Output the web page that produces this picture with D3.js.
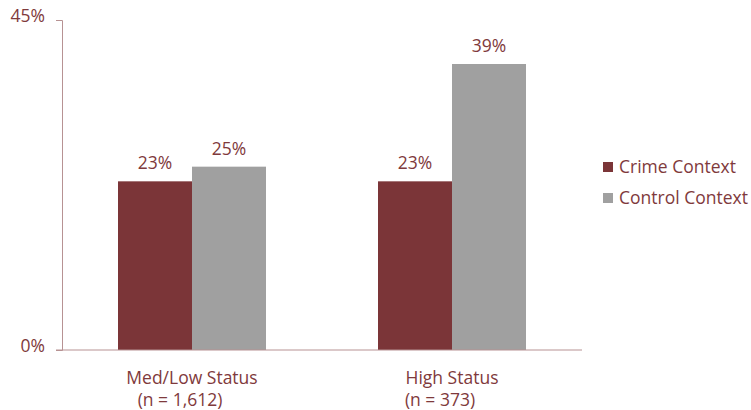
<!DOCTYPE html>
<html>
<head>
<meta charset="utf-8">
<script src="https://cdn.jsdelivr.net/npm/d3@7"></script>
<style>
  body { margin: 0; background: #fff; }
  text { font-family: "Open Sans", Lato, sans-serif; fill: #7f3a3c; font-size: 17.5px; }
  .axis path, .axis line { stroke: #b79293; }
</style>
</head>
<body>
<div id="chart"></div>
<script>
// chart data
const categories = ['Med/Low Status', 'High Status'];
const sampleSizes = ['(n = 1,612)', '(n = 373)'];
const seriesNames = ['Crime Context', 'Control Context'];
const crimeValues = [23, 23];
const controlValues = [25, 39];
const yTicks = [0, 45];

const width = 751;
const height = 410;
const margin = { top: 20, right: 169, bottom: 60, left: 62 };
const innerW = width - margin.left - margin.right;
const innerH = height - margin.top - margin.bottom;
const colors = ['#7b3538', '#a0a0a0'];
const groupW = 148;

const svg = d3
  .select('#chart')
  .append('svg')
  .attr('width', width)
  .attr('height', height);

const g = svg.append('g').attr('transform', `translate(${margin.left},${margin.top})`);

// scales
const x0 = d3.scaleBand().domain(categories).range([0, innerW]);
const x1 = d3.scaleBand().domain(seriesNames).range([0, groupW]);
const y = d3.scaleLinear().domain([0, 45]).range([innerH, 0]);

const rows = categories.map((c, i) => ({
  cat: c,
  vals: [
    { s: seriesNames[0], v: crimeValues[i] },
    { s: seriesNames[1], v: controlValues[i] },
  ],
}));

// bars
const grp = g
  .selectAll('.cat')
  .data(rows)
  .join('g')
  .attr('class', 'cat')
  .attr('transform', (d) => `translate(${x0(d.cat) + x0.bandwidth() / 2 - groupW / 2},0)`);

grp
  .selectAll('rect')
  .data((d) => d.vals)
  .join('rect')
  .attr('x', (d) => x1(d.s))
  .attr('width', x1.bandwidth())
  .attr('y', (d) => y(d.v))
  .attr('height', (d) => innerH - y(d.v))
  .attr('fill', (d, i) => colors[i]);

grp
  .selectAll('.lbl')
  .data((d) => d.vals)
  .join('text')
  .attr('class', 'lbl')
  .attr('x', (d) => x1(d.s) + x1.bandwidth() / 2)
  .attr('y', (d) => y(d.v) - 12)
  .attr('text-anchor', 'middle')
  .text((d) => d.v + '%');

// y axis
const yAxis = g
  .append('g')
  .attr('class', 'axis')
  .call(d3.axisLeft(y).tickValues(yTicks).tickSize(6).tickFormat((d) => d + '%'));
yAxis.selectAll('text').attr('x', -17).attr('dy', '0.1em');

// baseline
g.append('line')
  .attr('x1', -6)
  .attr('x2', innerW)
  .attr('y1', innerH)
  .attr('y2', innerH)
  .attr('stroke', '#b79293');

// category labels
const catLbl = g
  .selectAll('.catlbl')
  .data(categories)
  .join('g')
  .attr('class', 'catlbl')
  .attr('transform', (d) => `translate(${x0(d) + x0.bandwidth() / 2},${innerH})`);

catLbl
  .append('text')
  .attr('y', 34)
  .attr('text-anchor', 'middle')
  .text((d) => d);

catLbl
  .append('text')
  .attr('x', -12)
  .attr('y', 56)
  .attr('text-anchor', 'middle')
  .text((d, i) => sampleSizes[i]);

// legend
const legend = svg
  .append('g')
  .attr('transform', 'translate(603,162)')
  .selectAll('g')
  .data(seriesNames)
  .join('g')
  .attr('transform', (d, i) => `translate(0,${i * 31})`);

legend
  .append('rect')
  .attr('width', 10)
  .attr('height', 10)
  .attr('fill', (d, i) => colors[i]);

legend
  .append('text')
  .attr('x', 16)
  .attr('y', 11)
  .text((d) => d);
</script>
</body>
</html>
